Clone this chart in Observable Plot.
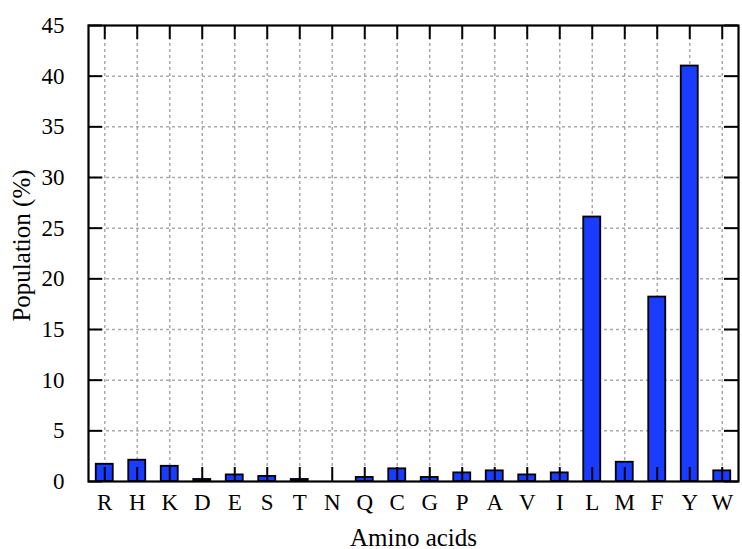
<!DOCTYPE html>
<html>
<head>
<meta charset="utf-8">
<script src="https://cdn.jsdelivr.net/npm/d3@7"></script>
<script src="https://cdn.jsdelivr.net/npm/@observablehq/plot@0.6"></script>
<style>
  html, body { margin: 0; padding: 0; background: #fff; }
  #chart svg [aria-label*="axis"] text { font-size: 23px; }
</style>
</head>
<body>
<div id="chart"></div>
<script>
const categories = ["R","H","K","D","E","S","T","N","Q","C","G","P","A","V","I","L","M","F","Y","W"];
const population = [1.7, 2.1, 1.5, 0.2, 0.65, 0.5, 0.2, 0.0, 0.4, 1.25, 0.4, 0.85, 1.05, 0.65, 0.85, 26.1, 1.9, 18.2, 41.0, 1.05];
const yTicks = [0, 5, 10, 15, 20, 25, 30, 35, 40, 45];
const xLabel = "Amino acids";
const yLabel = "Population (%)";

const data = categories.map((c, i) => ({i, c, v: population[i]}));
const idx = categories.map((c, i) => i);

const W = 742, H = 549;
const mL = 88, mR = 4, mT = 25, mB = 68;
const tickPx = 14;
const yTickLen = 45 * tickPx / (H - mT - mB);
const xTickLen = 20 * tickPx / (W - mL - mR);

const plot = Plot.plot({
  width: W,
  height: H,
  marginLeft: mL,
  marginRight: mR,
  marginTop: mT,
  marginBottom: mB,
  style: {fontFamily: "'Liberation Serif', 'Times New Roman', serif", fontSize: "23px", color: "#000", background: "#fff"},
  x: {
    type: "linear",
    domain: [-0.5, categories.length - 0.5],
    ticks: idx,
    tickFormat: i => categories[i],
    tickSize: 0,
    tickPadding: 12,
    label: null
  },
  y: {
    domain: [0, 45],
    ticks: yTicks,
    tickSize: 0,
    tickPadding: 24,
    label: null
  },
  marks: [
    Plot.ruleX(idx, {x: d => d, stroke: "#aaa", strokeWidth: 1.5, strokeDasharray: "3,3"}),
    Plot.ruleY(yTicks.slice(1, -1), {y: d => d, stroke: "#aaa", strokeWidth: 1.5, strokeDasharray: "3,3"}),
    Plot.rectY(data, {x1: d => d.i - 0.5, x2: d => d.i + 0.5, y: "v", insetLeft: 7.75, insetRight: 7.75, fill: "#1a3cff", stroke: "#000", strokeWidth: 1.8}),
    Plot.ruleX(idx, {x: d => d, y1: 0, y2: yTickLen, stroke: "#000", strokeWidth: 2}),
    Plot.ruleX(idx, {x: d => d, y1: 45, y2: 45 - yTickLen, stroke: "#000", strokeWidth: 2}),
    Plot.ruleY(yTicks, {y: d => d, x1: -0.5, x2: -0.5 + xTickLen, stroke: "#000", strokeWidth: 2}),
    Plot.ruleY(yTicks, {y: d => d, x1: categories.length - 0.5, x2: categories.length - 0.5 - xTickLen, stroke: "#000", strokeWidth: 2}),
    Plot.frame({stroke: "#000", strokeWidth: 2.2}),
    Plot.text([xLabel], {frameAnchor: "bottom", textAnchor: "middle", dy: 64, fontSize: 25, fill: "#000"}),
    Plot.text([yLabel], {frameAnchor: "left", textAnchor: "middle", rotate: -90, dx: -67, dy: -8, fontSize: 25, fill: "#000"})
  ]
});
document.getElementById("chart").appendChild(plot);
</script>
</body>
</html>
